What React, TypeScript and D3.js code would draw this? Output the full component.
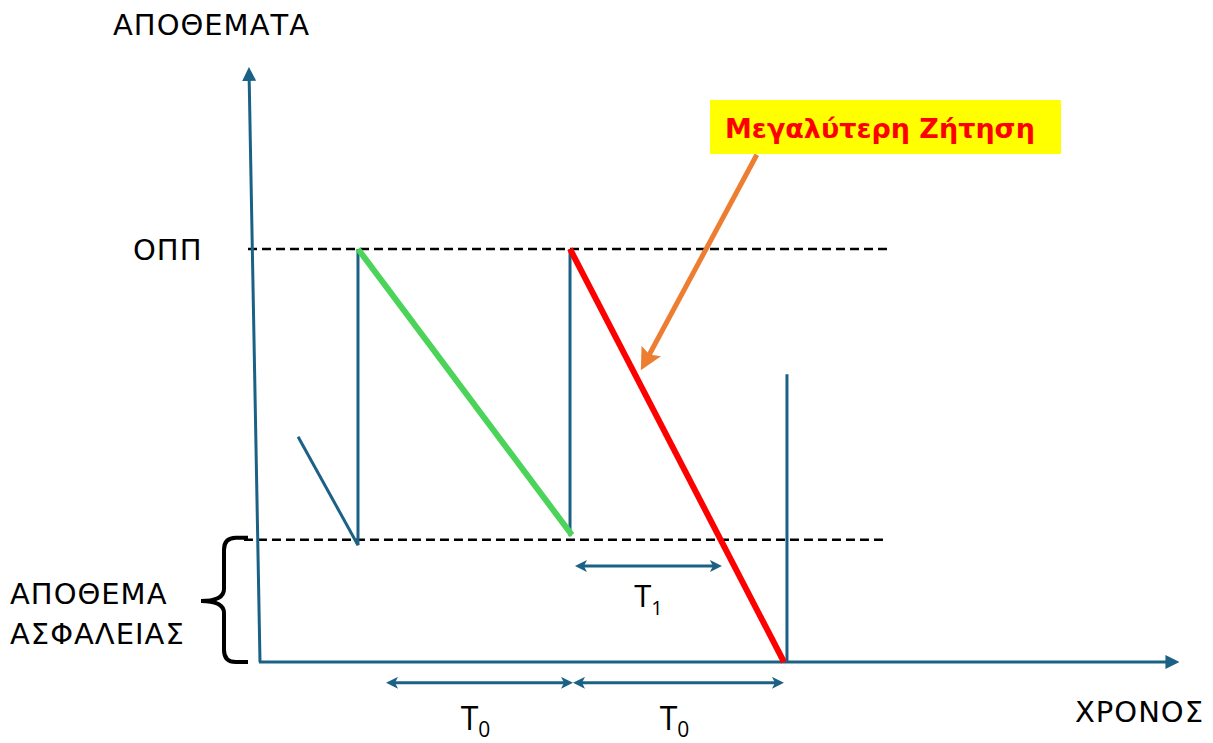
import React from 'react';
import * as d3 from 'd3';

const W = 1213;
const H = 743;

// time measured in order cycles (T0 = 1), stock as % of the axis height
const OPP_LEVEL = 69.3;
const SAFETY_LEVEL = 20.5;
const leadInLine: [number, number][] = [[0.178, 37.8], [0.458, 19.6]];
const greenCycle: [number, number][] = [[0.458, OPP_LEVEL], [1.458, 21.3]];
const redCycle: [number, number][] = [[1.449, OPP_LEVEL], [2.449, 0]];
const replenishTimes = [0.458, 1.449, 2.463];
const replenishFrom = [19.6, 21.1, 0];
const replenishTo = [OPP_LEVEL, OPP_LEVEL, 48.3];
const t0Spans: [number, number][] = [[0.589, 1.463], [1.463, 2.449]];
const t1Span: [number, number] = [1.472, 2.159];
const calloutArrow: [number, number][] = [[2.322, 85.1], [1.811, 51]];

const yAxisLabel = 'ΑΠΟΘΕΜΑΤΑ';
const xAxisLabel = 'ΧΡΟΝΟΣ';
const oppLabel = 'ΟΠΠ';
const safetyLabel = ['ΑΠΟΘΕΜΑ', 'ΑΣΦΑΛΕΙΑΣ'];
const calloutText = 'Μεγαλύτερη Ζήτηση';

const x = d3.scaleLinear().domain([0, 4.3]).range([260, 1180]);
const y = d3.scaleLinear().domain([0, 100]).range([662, 66]);
const line = d3.line<[number, number]>().x(d => x(d[0])).y(d => y(d[1]));

const BLUE = '#1b6186';
const FONT = "'DejaVu Sans', 'Open Sans', sans-serif";

export default function App() {
  const ssTop = y(SAFETY_LEVEL);
  const ssBot = y(0);
  const mid = (ssTop + ssBot) / 2;
  const bx = 224;
  const brace = `M248,${ssTop - 2} L236,${ssTop - 2} Q${bx},${ssTop - 2} ${bx},${ssTop + 10} L${bx},${mid - 12} Q${bx},${mid} 201,${mid} Q${bx},${mid} ${bx},${mid + 12} L${bx},${ssBot - 12} Q${bx},${ssBot} 236,${ssBot} L248,${ssBot}`;

  const labelStyle = { letterSpacing: '1px' };

  return (
    <div style={{ position: 'fixed', left: 0, top: 0 }}>
      <svg width={W} height={H} style={{ display: 'block', background: '#fff' }} fontFamily={FONT}>
        <defs>
          <marker id="axisHead" markerUnits="userSpaceOnUse" markerWidth={14} markerHeight={14}
            viewBox="0 0 14 14" refX={6} refY={7} orient="auto">
            <path d="M0,0 L14,7 L0,14 z" fill={BLUE} />
          </marker>
          <marker id="spanHead" markerUnits="userSpaceOnUse" markerWidth={12} markerHeight={12}
            viewBox="0 0 12 12" refX={6} refY={6} orient="auto-start-reverse">
            <path d="M0,0 L12,6 L0,12 L3,6 z" fill={BLUE} />
          </marker>
          <marker id="orangeHead" markerUnits="userSpaceOnUse" markerWidth={22} markerHeight={22}
            viewBox="0 0 22 22" refX={8} refY={11} orient="auto">
            <path d="M0,0 L22,11 L0,22 L4,11 z" fill="#ed7d31" />
          </marker>
        </defs>

        {/* reference levels */}
        <line x1={x(-0.056)} x2={x(2.944)} y1={y(OPP_LEVEL)} y2={y(OPP_LEVEL)}
          stroke="#000" strokeWidth={2.4} strokeDasharray="9,5" />
        <line x1={x(-0.075)} x2={x(2.935)} y1={y(SAFETY_LEVEL)} y2={y(SAFETY_LEVEL)}
          stroke="#000" strokeWidth={2.4} strokeDasharray="9,5" />

        {/* axes */}
        <line x1={x(0)} y1={y(0)} x2={x(-0.051)} y2={y(98.5)} stroke={BLUE} strokeWidth={3}
          markerEnd="url(#axisHead)" />
        <line x1={x(-0.005)} y1={y(0)} x2={x(4.26)} y2={y(0)} stroke={BLUE} strokeWidth={3}
          markerEnd="url(#axisHead)" />

        {/* stock path */}
        <path d={line(leadInLine) || ''} stroke={BLUE} strokeWidth={3} fill="none" />
        {replenishTimes.map((t, i) => (
          <line key={i} x1={x(t)} x2={x(t)} y1={y(replenishFrom[i])} y2={y(replenishTo[i])}
            stroke={BLUE} strokeWidth={3} />
        ))}
        <path d={line(greenCycle) || ''} stroke="#4cd45a" strokeWidth={6} fill="none" />
        <path d={line(redCycle) || ''} stroke="#ff0000" strokeWidth={6} fill="none" />

        {/* lead time spans */}
        {t0Spans.map((s, i) => (
          <line key={i} x1={x(s[0]) + 6} x2={x(s[1]) - 6} y1={y(-3.5)} y2={y(-3.5)}
            stroke={BLUE} strokeWidth={3} markerStart="url(#spanHead)" markerEnd="url(#spanHead)" />
        ))}
        <line x1={x(t1Span[0]) + 6} x2={x(t1Span[1]) - 6} y1={y(16.1)} y2={y(16.1)}
          stroke={BLUE} strokeWidth={3} markerStart="url(#spanHead)" markerEnd="url(#spanHead)" />

        {t0Spans.map((s, i) => (
          <text key={i} x={(x(s[0]) + x(s[1])) / 2 - 4} y={730} fontFamily="'Open Sans', sans-serif"
            fontSize={32} textAnchor="middle" fill="#000">
            T<tspan fontSize={21} dy={7}>0</tspan>
          </text>
        ))}
        <text x={(x(t1Span[0]) + x(t1Span[1])) / 2} y={607} fontFamily="'Open Sans', sans-serif"
          fontSize={31} textAnchor="middle" fill="#000">
          T<tspan fontSize={20} dy={8}>1</tspan>
        </text>

        {/* callout */}
        <path d={line(calloutArrow) || ''} stroke="#ed7d31" strokeWidth={5} fill="none"
          markerEnd="url(#orangeHead)" />
        <rect x={710} y={100} width={351} height={54} fill="#ffff00" />
        <text x={725} y={138} fontSize={27} fontWeight="bold" fill="#ff0000">{calloutText}</text>

        {/* safety stock brace */}
        <path d={brace} stroke="#000" strokeWidth={4} fill="none" />

        {/* labels */}
        <text x={113} y={35} fontSize={29} fill="#000" style={labelStyle}>{yAxisLabel}</text>
        <text x={133} y={260} fontSize={29} fill="#000" style={labelStyle}>{oppLabel}</text>
        <text x={10} y={604} fontSize={29} fill="#000" style={labelStyle}>{safetyLabel[0]}</text>
        <text x={10} y={644} fontSize={29} fill="#000" style={labelStyle}>{safetyLabel[1]}</text>
        <text x={1075} y={722} fontSize={29} fill="#000" style={labelStyle}>{xAxisLabel}</text>
      </svg>
    </div>
  );
}
